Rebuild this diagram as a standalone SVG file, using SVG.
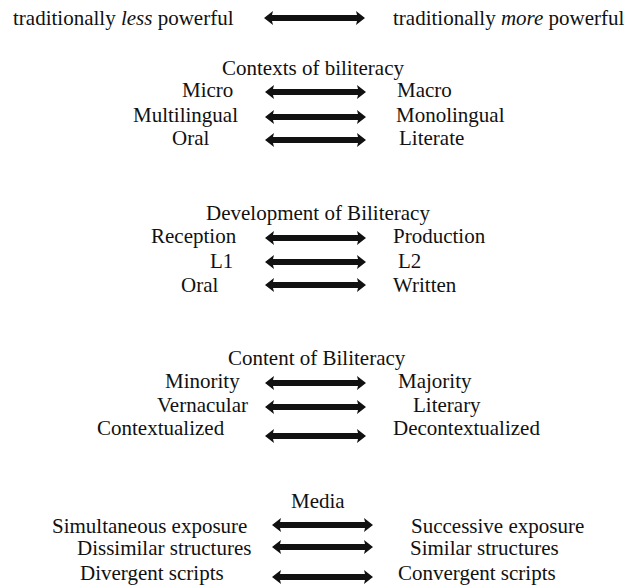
<svg xmlns="http://www.w3.org/2000/svg" xmlns:xlink="http://www.w3.org/1999/xlink" width="624" height="586" viewBox="0 0 624 586">
<style>
text{font-family:"Liberation Serif",Tinos,"Times New Roman","DejaVu Serif",serif;font-size:21px;fill:#111}
.arr{fill:#111}
</style>
<defs>
<path id="arrow" class="arr" d="M0,0 L9,-7 L8,-3 L93,-3 L92,-7 L101,0 L92,7 L93,3 L8,3 L9,7 Z"/>
</defs>
<rect width="624" height="586" fill="#fff"/>
<g font-family="Liberation Serif, Times New Roman, serif">
<g id="header">
<text x="13" y="25">traditionally <tspan font-style="italic">less</tspan> powerful</text>
<text x="393" y="25">traditionally <tspan font-style="italic">more</tspan> powerful</text>
</g>
<g id="contexts">
<text x="222" y="75">Contexts of biliteracy</text>
<text x="182" y="97">Micro</text>
<text x="397" y="97">Macro</text>
<text x="133" y="122">Multilingual</text>
<text x="396" y="122">Monolingual</text>
<text x="172" y="145">Oral</text>
<text x="399" y="145">Literate</text>
</g>
<g id="development">
<text x="206" y="220">Development of Biliteracy</text>
<text x="151" y="243">Reception</text>
<text x="393" y="243">Production</text>
<text x="210" y="268">L1</text>
<text x="398" y="268">L2</text>
<text x="181" y="292">Oral</text>
<text x="393" y="292">Written</text>
</g>
<g id="content">
<text x="228" y="365">Content of Biliteracy</text>
<text x="165" y="388">Minority</text>
<text x="398" y="388">Majority</text>
<text x="157" y="412">Vernacular</text>
<text x="413" y="412">Literary</text>
<text x="97" y="435">Contextualized</text>
<text x="393" y="435">Decontextualized</text>
</g>
<g id="media">
<text x="291" y="508">Media</text>
<text x="52" y="533">Simultaneous exposure</text>
<text x="411" y="533">Successive exposure</text>
<text x="77" y="555">Dissimilar structures</text>
<text x="410" y="555">Similar structures</text>
<text x="80" y="580">Divergent scripts</text>
<text x="398" y="580">Convergent scripts</text>
</g>
</g>
<g id="connectors">
<use xlink:href="#arrow" x="264" y="18"/>
<use xlink:href="#arrow" x="265" y="92"/>
<use xlink:href="#arrow" x="265" y="117"/>
<use xlink:href="#arrow" x="265" y="140"/>
<use xlink:href="#arrow" x="265" y="238"/>
<use xlink:href="#arrow" x="265" y="262"/>
<use xlink:href="#arrow" x="265" y="285"/>
<use xlink:href="#arrow" x="265" y="383"/>
<use xlink:href="#arrow" x="265" y="407"/>
<use xlink:href="#arrow" x="265" y="436"/>
<use xlink:href="#arrow" x="272" y="525"/>
<use xlink:href="#arrow" x="272" y="547"/>
<use xlink:href="#arrow" x="272" y="577"/>
</g>
</svg>
